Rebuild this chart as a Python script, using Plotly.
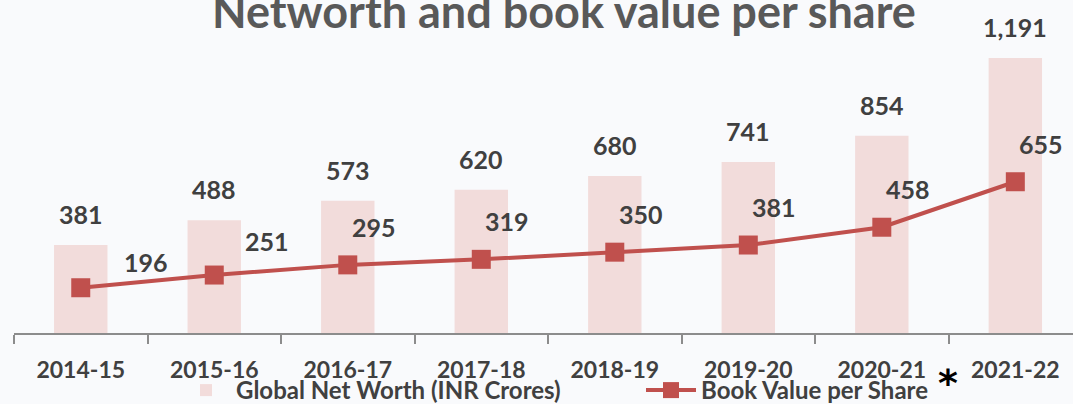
import plotly.graph_objects as go

years = ["2014-15", "2015-16", "2016-17", "2017-18", "2018-19", "2019-20", "2020-21", "2021-22"]
net_worth = [381, 488, 573, 620, 680, 741, 854, 1191]
book_value = [196, 251, 295, 319, 350, 381, 458, 655]

FONT = "Lato"
TXT = "#404040"
BG = "#f9fafc"

fig = go.Figure()
fig.add_trace(go.Bar(
    x=years, y=net_worth, name="Global Net Worth (INR Crores)",
    marker=dict(color="#f2dcdb", line=dict(width=0)), width=0.4,
))
fig.add_trace(go.Scatter(
    x=years, y=book_value, name="Book Value per Share", mode="lines+markers",
    line=dict(color="#c0504d", width=4),
    marker=dict(symbol="square", size=19, color="#c0504d"),
    cliponaxis=False,
))

for yr, v in zip(years, net_worth):
    fig.add_annotation(x=yr, y=v, text=f"{v:,}", showarrow=False, yshift=31,
                       font=dict(family=FONT, size=25, color=TXT, weight=700))

# line value labels (offset up-right of each point)
shifts = [(65, 26), (53, 34)] + [(26, 38)] * 6
for i, (yr, v) in enumerate(zip(years, book_value)):
    dx, dy = shifts[i]
    fig.add_annotation(x=yr, y=v, text=str(v), showarrow=False, xshift=dx, yshift=dy,
                       font=dict(family=FONT, size=25, color=TXT, weight=700))

fig.add_annotation(xref="paper", yref="paper", x=0.5, y=1, text="Networth and book value per share",
                   showarrow=False, xanchor="center", yanchor="middle", yshift=-11, xshift=20,
                   font=dict(family=FONT, size=45, color="#595959", weight=700))
fig.add_annotation(xref="paper", yref="paper", x=(960 - 14) / 1059, y=(333 - 407) / 333, text="*",
                   showarrow=False, font=dict(family="DejaVu Sans", size=38, color="#000000", weight=700))

fig.update_layout(
    width=1073, height=404,
    margin=dict(l=14, r=0, t=0, b=71, autoexpand=False),
    paper_bgcolor=BG, plot_bgcolor=BG,
    showlegend=True,
    legend=dict(orientation="h", x=(176 - 14) / 1059, xanchor="left", y=(333 - 368) / 333, yanchor="top",
                font=dict(family=FONT, size=24, color=TXT, weight=700), entrywidth=400, entrywidthmode="pixels",
                bgcolor="rgba(0,0,0,0)", itemwidth=50),
    font=dict(family=FONT),
)
fig.update_xaxes(range=[-0.5, 7.432], showline=True, linecolor="#8c8c8c", linewidth=2,
                 ticks="outside", tickson="boundaries", ticklen=9, tickcolor="#8c8c8c", tickwidth=2,
                 ticklabelstandoff=15,
                 tickfont=dict(family=FONT, size=23, color=TXT, weight=700), showgrid=False, zeroline=False, fixedrange=True)
fig.update_yaxes(range=[0, 1442], visible=False, showgrid=False, zeroline=False, fixedrange=True)

fig.write_html("out.html", config={"displayModeBar": False},
               post_script=f"document.body.style.margin='0';document.body.style.background='{BG}';")
